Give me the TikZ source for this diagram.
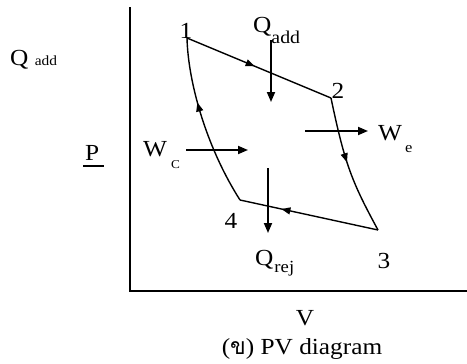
\documentclass[tikz,border=0pt]{standalone}
\usepackage{fontspec}
\setmainfont{Liberation Serif}[FakeStretch=1.1]
\newfontfamily\thaifont[Script=Thai]{Loma}
\usetikzlibrary{arrows.meta,decorations.markings}

\begin{document}
\begin{tikzpicture}[x=1pt,y=-1pt,
  lbl/.style={inner sep=0pt,anchor=base,font=\fontsize{23}{27}\selectfont},
  cyc/.style={line width=1.4pt},
  flow/.style={line width=1.8pt,-{Triangle[length=10pt,width=8pt]}},
  midarr/.style={postaction={decorate},decoration={markings,
    mark=at position #1 with {\arrow{Triangle[length=9pt,width=7pt]}}}}]
\useasboundingbox (0,0) rectangle (467,364);
% axes
\draw[line width=1.8pt] (130,7) -- (130,291) -- (467,291);
% states of the cycle
\coordinate (s1) at (187,38);
\coordinate (s2) at (331,98);
\coordinate (s3) at (378,230);
\coordinate (s4) at (240,200);
\draw[cyc,midarr=0.47] (s1) -- (s2);
\draw[cyc,midarr=0.47] (s2) .. controls (345,165) and (352,182) .. (s3);
\draw[cyc,midarr=0.70] (s3) -- (s4);
\draw[cyc,midarr=0.62] (s4) .. controls (205,145) and (188,80) .. (s1);
\foreach \n/\x/\y in {1/186/38,2/338/98,3/384/268,4/231/228}{
  \node[lbl] (lab\n) at (\x,\y) {\n};
}
% heat and work arrows
\coordinate (qinA) at (271,40);  \coordinate (qinB) at (271,102);
\coordinate (qoutA) at (268,168); \coordinate (qoutB) at (268,233);
\coordinate (wcA) at (186,150);  \coordinate (wcB) at (248,150);
\coordinate (weA) at (305,131);  \coordinate (weB) at (368,131);
\draw[flow] (qinA) -- (qinB);
\draw[flow] (qoutA) -- (qoutB);
\draw[flow] (wcA) -- (wcB);
\draw[flow] (weA) -- (weB);
% labels
\node[lbl,anchor=base west] (qaddL) at (10,66) {Q {\fontsize{14}{16}\selectfont add}};
\node[lbl,anchor=base west] (pp) at (85,160) {P};
\draw[line width=1.8pt] ([xshift=-2pt,yshift=-6pt]pp.base west) -- ([xshift=5pt,yshift=-6pt]pp.base east);
\node[lbl,anchor=base west] (qadd) at (253,33) {Q\lower10pt\hbox{\fontsize{18}{20}\selectfont add}};
\node[lbl,anchor=base west] (qrej) at (255,265) {Q\kern1pt\lower7pt\hbox{\fontsize{17}{20}\selectfont rej}};
\node[lbl,anchor=base west] (wc) at (143,157) {W\kern4pt\lower12pt\hbox{\fontsize{12}{14}\selectfont C}};
\node[lbl,anchor=base west] (we) at (378,140) {W\kern3pt\lower12pt\hbox{\fontsize{15}{17}\selectfont e}};
\node[lbl] (vv) at (305,325) {V};
\node[lbl] (cap) at (302,354) {({\thaifont ข}) PV diagram};
\end{tikzpicture}
\end{document}
